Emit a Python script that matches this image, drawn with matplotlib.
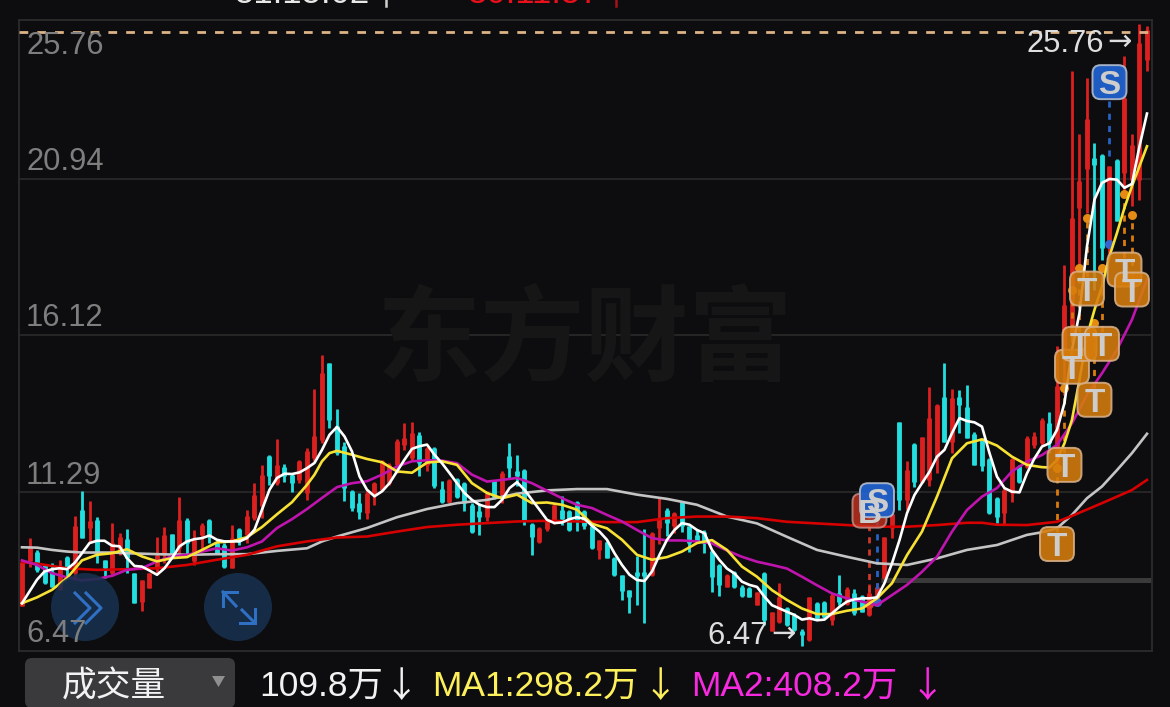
import matplotlib
matplotlib.use('Agg')
import matplotlib.pyplot as plt
import numpy as np
from matplotlib.patches import Circle, FancyBboxPatch, Polygon

plt.rcParams['font.family'] = ['Liberation Sans', 'Noto Sans CJK SC', 'DejaVu Sans']

# candles, left to right
opens = [7.85, 9.21, 9.51, 9.10, 8.87, 8.34, 9.34, 8.85, 10.79, 10.23,
         10.48, 9.24, 8.85, 9.51, 9.89, 8.85, 7.98, 8.39, 9.00, 9.41,
         10.05, 9.61, 10.48, 9.21, 10.02, 10.48, 9.77, 9.72, 9.00, 10.20,
         10.02, 10.53, 10.89, 12.42, 11.60, 12.11, 11.86, 11.71, 11.30, 12.37,
         12.93, 15.28, 13.34, 12.73, 11.35, 11.00, 10.69, 11.25, 11.40, 11.60,
         12.16, 12.78, 12.37, 13.08, 12.16, 12.67, 11.42, 11.04, 11.72, 11.62,
         10.94, 10.74, 10.58, 11.68, 11.25, 12.42, 11.96, 12.01, 10.36, 9.79,
         10.19, 10.48, 10.79, 10.74, 11.04, 10.74, 10.30, 9.56, 9.80, 9.31,
         8.78, 8.32, 8.90, 8.90, 8.80, 10.22, 10.79, 10.28, 11.01, 10.28,
         10.02, 10.12, 9.54, 9.10, 8.43, 8.89, 8.43, 8.41, 7.87, 8.84,
         7.09, 7.36, 7.77, 7.57, 7.09, 6.80, 7.95, 7.98, 7.41, 8.23,
         7.92, 8.23, 8.15, 7.57, 8.03, 8.69, 10.22, 13.46, 11.09, 12.80,
         11.65, 11.70, 12.41, 14.25, 12.87, 14.25, 13.94, 13.11, 12.94, 12.34,
         11.14, 10.68, 11.29, 12.13, 12.11, 12.77, 12.82, 13.43, 12.21, 15.68,
         16.14, 20.02, 21.19, 21.55, 21.62, 18.84, 21.49, 21.09, 20.88, 20.88,
         24.53]
closes = [9.18, 9.67, 8.95, 8.54, 8.44, 9.05, 9.00, 10.30, 9.92, 10.43,
          9.46, 9.00, 9.77, 9.97, 9.31, 7.95, 8.63, 8.85, 9.41, 10.02,
          9.41, 10.48, 9.77, 9.87, 10.33, 10.02, 9.46, 9.05, 9.92, 9.92,
          10.60, 11.25, 11.86, 11.81, 12.16, 11.81, 11.60, 12.27, 12.57, 13.03,
          14.97, 13.54, 12.52, 11.45, 10.84, 10.71, 11.30, 11.60, 12.27, 12.17,
          12.88, 12.98, 13.13, 12.21, 12.67, 11.50, 11.04, 11.70, 11.17, 10.99,
          10.12, 10.58, 11.30, 11.19, 11.91, 12.06, 11.81, 10.48, 9.97, 10.22,
          10.46, 10.94, 10.50, 10.17, 10.48, 10.30, 9.61, 9.85, 9.31, 8.78,
          8.29, 8.11, 8.75, 8.75, 10.09, 10.53, 10.38, 10.68, 10.30, 9.77,
          9.82, 9.78, 8.74, 8.49, 8.79, 8.43, 8.15, 8.13, 8.26, 7.41,
          7.65, 8.13, 7.26, 7.11, 6.96, 8.11, 7.47, 7.52, 8.18, 7.98,
          8.38, 7.62, 7.67, 8.23, 8.43, 9.94, 10.66, 11.09, 12.00, 11.65,
          13.00, 13.59, 13.99, 12.87, 14.20, 13.99, 12.97, 12.16, 12.13, 10.68,
          10.58, 11.39, 12.33, 11.65, 12.98, 13.03, 13.54, 12.82, 14.56, 17.06,
          19.72, 20.83, 22.72, 21.34, 18.79, 21.29, 19.61, 23.38, 21.95, 25.06,
          25.45]
highs = [9.18, 9.91, 9.56, 9.10, 9.16, 9.26, 9.36, 10.60, 11.35, 11.06,
         10.56, 9.26, 10.38, 10.07, 10.20, 8.85, 8.63, 8.85, 9.95, 10.26,
         10.05, 11.18, 10.53, 10.18, 10.38, 10.50, 9.82, 9.77, 10.33, 10.23,
         10.77, 11.62, 12.16, 12.47, 12.96, 12.20, 11.91, 12.32, 12.67, 14.48,
         15.53, 15.28, 13.88, 12.85, 11.38, 11.30, 11.40, 11.63, 12.32, 12.22,
         12.96, 13.44, 13.46, 13.15, 12.72, 12.72, 11.68, 11.72, 11.76, 11.65,
         10.99, 10.99, 11.35, 11.70, 11.96, 12.83, 12.47, 12.03, 10.38, 10.26,
         10.48, 10.99, 11.21, 10.79, 11.07, 10.79, 10.33, 9.87, 9.82, 9.33,
         8.80, 8.34, 9.38, 10.19, 10.12, 11.19, 10.84, 10.71, 11.04, 10.30,
         10.17, 10.17, 9.56, 9.13, 8.82, 8.92, 8.49, 8.43, 8.28, 8.89,
         7.67, 8.56, 7.80, 7.62, 7.13, 8.13, 7.98, 8.01, 8.23, 8.79,
         8.43, 8.38, 8.18, 8.52, 8.54, 9.96, 10.68, 13.48, 12.29, 12.82,
         13.02, 14.53, 14.02, 15.27, 14.47, 14.45, 14.61, 13.15, 12.97, 12.36,
         11.19, 11.45, 12.36, 12.16, 13.03, 13.15, 13.59, 13.79, 15.78, 18.28,
         24.19, 22.26, 23.99, 22.00, 21.65, 21.31, 21.51, 24.66, 22.26, 25.63,
         25.59]
lows = [7.85, 9.05, 8.90, 8.52, 8.44, 8.34, 8.75, 8.65, 9.92, 9.77,
        9.16, 8.70, 8.75, 9.41, 8.85, 7.93, 7.68, 8.39, 8.85, 9.16,
        9.41, 9.36, 9.41, 9.10, 9.56, 9.77, 9.44, 9.00, 9.00, 9.72,
        9.77, 10.48, 10.53, 11.53, 11.55, 11.63, 11.32, 11.60, 11.09, 12.27,
        12.83, 13.29, 12.47, 11.06, 10.74, 10.51, 10.50, 10.94, 11.35, 11.53,
        11.91, 12.62, 12.32, 11.83, 11.96, 11.45, 10.99, 10.99, 11.14, 10.74,
        10.07, 10.02, 10.43, 11.11, 10.99, 11.76, 11.50, 10.33, 9.41, 9.77,
        10.15, 10.36, 10.33, 10.15, 10.15, 10.19, 9.58, 9.28, 9.30, 8.77,
        8.03, 7.62, 7.88, 7.32, 8.77, 9.75, 10.00, 10.07, 10.12, 9.51,
        9.77, 9.47, 8.28, 8.15, 8.43, 8.41, 8.13, 8.11, 7.87, 7.26,
        7.09, 7.33, 7.23, 7.09, 6.63, 6.78, 7.41, 7.47, 7.26, 7.87,
        7.87, 7.57, 7.67, 7.54, 7.98, 8.66, 9.91, 10.78, 10.78, 11.49,
        11.60, 11.51, 11.92, 12.87, 12.51, 13.13, 12.97, 12.16, 11.98, 10.66,
        10.37, 10.32, 11.01, 11.60, 12.06, 12.67, 12.77, 12.52, 12.16, 14.30,
        15.99, 18.13, 19.86, 17.52, 18.43, 18.54, 19.61, 20.47, 20.07, 20.27,
        24.20]

# moving averages
ma_white = [7.93, 8.29, 8.65, 8.90, 8.97, 9.00, 8.97, 9.16, 9.46, 9.77,
            9.84, 9.84, 9.69, 9.67, 9.31, 9.07, 9.05, 8.93, 8.80, 9.00,
            9.31, 9.67, 9.82, 9.89, 9.92, 10.00, 9.87, 9.82, 9.82, 9.82,
            9.92, 10.18, 10.79, 11.40, 11.76, 11.89, 11.88, 11.93, 12.06, 12.22,
            12.62, 13.08, 13.32, 13.03, 12.57, 11.81, 11.40, 11.20, 11.35, 11.60,
            11.96, 12.32, 12.65, 12.73, 12.78, 12.47, 12.21, 11.91, 11.60, 11.30,
            11.09, 10.94, 10.87, 10.87, 11.09, 11.45, 11.63, 11.40, 11.09, 10.79,
            10.48, 10.38, 10.40, 10.50, 10.56, 10.51, 10.30, 10.12, 9.87, 9.46,
            9.10, 8.80, 8.64, 8.61, 8.90, 9.41, 9.87, 10.17, 10.38, 10.33,
            10.17, 10.07, 9.56, 9.25, 8.99, 8.84, 8.59, 8.49, 8.43, 8.13,
            7.87, 7.77, 7.67, 7.57, 7.43, 7.47, 7.41, 7.43, 7.62, 7.82,
            7.98, 8.05, 8.08, 8.08, 8.11, 8.54, 9.15, 9.86, 10.68, 11.24,
            11.60, 11.95, 12.41, 12.62, 13.13, 13.59, 13.50, 13.46, 13.33, 12.52,
            11.80, 11.45, 11.34, 11.32, 11.90, 12.36, 12.72, 12.82, 13.23, 14.05,
            15.68, 16.80, 18.84, 20.27, 20.78, 20.90, 20.88, 20.63, 20.75, 21.90,
            22.90]

yellow_idx = [0, 2, 4, 6, 8, 10, 12, 14, 16, 18, 20, 22, 24, 26, 28, 30, 32, 34, 36, 38,
              39, 40, 41, 42, 44, 46, 48, 50, 52, 54, 56, 58, 60, 62, 64, 66, 68, 70, 72, 74,
              76, 78, 80, 82, 84, 86, 88, 90, 92, 94, 96, 98, 100, 102, 104, 106, 108, 110, 112, 114,
              116, 118, 120, 122, 124, 126, 128, 130, 132, 134, 136, 137, 138, 139, 140, 141, 142, 143,
              144, 145, 146, 147, 148, 149, 150]
ma_yellow = [7.93, 8.11, 8.34, 8.70, 9.24, 9.41, 9.46, 9.58, 9.36, 9.21, 9.31, 9.34, 9.56, 9.79, 9.82, 9.95, 10.26, 10.65, 11.02, 11.55,
             11.86, 12.27, 12.52, 12.59, 12.47, 12.34, 12.24, 11.96, 11.92, 12.23, 12.27, 12.16, 11.60, 11.30, 11.14, 11.25, 10.99, 11.01, 10.94, 10.79,
             10.36, 10.22, 9.87, 9.41, 9.26, 9.34, 9.51, 9.77, 9.86, 9.56, 9.05, 8.74, 8.33, 8.03, 7.77, 7.60, 7.60, 7.70, 7.77, 8.08,
             8.54, 9.40, 10.12, 11.19, 12.36, 12.82, 12.94, 12.75, 12.41, 12.16, 12.09, 12.08, 12.31, 12.82, 13.54, 14.76, 16.09, 16.90,
             17.62, 18.54, 19.25, 20.02, 20.68, 21.29, 21.90]

magenta_idx = [0, 2, 4, 6, 8, 10, 12, 14, 16, 18, 20, 22, 24, 26, 28, 30, 32, 34, 36, 38,
               40, 42, 44, 46, 48, 50, 52, 54, 56, 58, 60, 62, 64, 66, 68, 70, 72, 74, 76, 78,
               80, 82, 84, 86, 88, 90, 92, 94, 96, 98, 100, 102, 104, 106, 108, 110, 112, 114, 116, 118,
               120, 122, 124, 126, 128, 130, 132, 134, 136, 138, 140, 142, 144, 146, 148, 150]
ma_magenta = [9.24, 9.10, 8.85, 8.72, 8.63, 8.67, 8.77, 8.95, 9.00, 9.21, 9.36, 9.41, 9.51, 9.61, 9.54, 9.64, 9.82, 10.23, 10.50, 10.81,
              11.15, 11.48, 11.60, 11.66, 11.86, 12.11, 12.27, 12.30, 12.29, 12.21, 11.86, 11.65, 11.70, 11.76, 11.60, 11.37, 11.14, 10.94, 10.84, 10.63,
              10.43, 10.17, 9.92, 9.85, 9.85, 9.82, 9.76, 9.54, 9.35, 9.20, 9.10, 8.99, 8.74, 8.48, 8.23, 8.08, 7.98, 7.87, 8.18, 8.49,
              8.89, 9.35, 10.12, 10.78, 11.19, 11.45, 11.96, 12.26, 12.46, 12.77, 13.43, 14.30, 14.96, 15.68, 16.60, 17.82]

grey_idx = [0, 2, 4, 6, 8, 12, 14, 18, 22, 26, 30, 34, 38, 40, 42, 46, 50, 54, 58, 62, 66, 70, 74, 78,
            82, 86, 90, 94, 98, 102, 106, 110, 114, 118, 122, 126, 130, 134, 136, 138, 140, 142, 144, 146, 148, 150]
ma_grey = [9.64, 9.63, 9.56, 9.51, 9.48, 9.48, 9.46, 9.43, 9.41, 9.43, 9.43, 9.53, 9.61, 9.82, 9.97, 10.23, 10.56, 10.81, 10.99, 11.09, 11.28, 11.38, 11.42, 11.42,
           11.25, 11.12, 10.94, 10.58, 10.37, 9.96, 9.56, 9.35, 9.15, 9.10, 9.30, 9.56, 9.71, 10.02, 10.10, 10.22, 10.63, 11.14, 11.50, 12.00, 12.52, 13.11]

red_idx = [0, 2, 6, 10, 14, 18, 22, 26, 30, 34, 38, 42, 46, 50, 54, 58, 62, 66, 70, 74, 78, 82, 86, 90,
           94, 98, 102, 106, 110, 114, 118, 122, 126, 128, 130, 134, 138, 140, 144, 148, 150]
ma_red = [9.19, 9.14, 9.00, 8.95, 8.97, 9.00, 9.10, 9.26, 9.41, 9.67, 9.82, 9.94, 9.97, 10.12, 10.26, 10.33, 10.38, 10.43, 10.45, 10.43, 10.41, 10.41, 10.53, 10.58,
          10.58, 10.53, 10.42, 10.37, 10.32, 10.27, 10.27, 10.32, 10.39, 10.39, 10.33, 10.32, 10.42, 10.60, 10.99, 11.39, 11.70]

# trade signals: candle index, badge level, dot level
t_idx = [138, 143, 139, 140, 141, 144, 142, 147, 148]
t_badge = [9.74, 14.15, 12.16, 15.16, 15.86, 15.86, 17.55, 18.13, 17.52]
t_dot = [12.07, 16.51, 14.52, 17.52, 18.19, 18.19, 19.72, 20.45, 19.81]
b_idx, b_badge, b_dot = 113, 10.76, 7.90
s_idx = [114, 145]
s_badge = [11.08, 23.86]
s_dot = [7.96, 18.90]
s_line_top = [10.40, 23.30]
s_line_bot = [8.00, 21.60]

tick_labels = ['25.76', '20.94', '16.12', '11.29', '6.47']
grid_levels = [20.90, 16.13, 11.33]
high_level = 25.39
flat_level = 8.64
max_label = '25.76'
min_label = '6.47'

BG = '#0d0d0f'
RED = '#dc2020'
CYAN = '#22dede'
ORANGE = '#d97c0c'
BLUE = '#2563c4'

fig = plt.figure(figsize=(11.7, 7.07), dpi=100, facecolor=BG)
ax = fig.add_axes([18.5 / 1170, 1 - 651 / 707, (1152 - 18.5) / 1170, (651 - 20) / 707])
ax.set_facecolor(BG)
ax.set_xlim(-0.467, 150.67)
ax.set_ylim(6.47, 25.76)
ax.set_xticks([])
ax.set_yticks([])
for s in ax.spines.values():
    s.set_color('#2b2b2b')
    s.set_linewidth(1.3)

ui = fig.add_axes([0, 0, 1, 1], zorder=5)
ui.set_xlim(0, 1170)
ui.set_ylim(707, 0)
ui.axis('off')
ui.patch.set_alpha(0)

ax.hlines(grid_levels, -0.467, 150.67, color='#262626', lw=1.4, zorder=1)
ax.text(585, 342, '东方财富', transform=ui.transData, color='#161616',
        fontsize=75, fontweight='bold', family='Noto Sans CJK SC', ha='center', va='center', zorder=1)
ax.hlines(flat_level, 114.5, 150.67, color='#3a3a3a', lw=3.6, zorder=1)

# candles
xs = np.arange(len(opens))
opens, closes, highs, lows = map(np.array, (opens, closes, highs, lows))
colors = np.where(closes >= opens, RED, CYAN)
ax.vlines(xs, lows, highs, colors=colors, lw=2.0, zorder=2, capstyle='butt')
ax.vlines(xs, np.minimum(opens, closes), np.maximum(opens, closes), colors=colors, lw=3.5, zorder=2, capstyle='butt')

# dotted signal lines and dots
dash = (0, (2.2, 2.2))
ax.vlines(t_idx, np.array(t_badge), t_dot, color=ORANGE, lw=2, linestyle=dash, zorder=3)
ax.plot(t_idx, t_dot, 'o', color='#e58a12', ms=6.5, zorder=3, mew=0)
ax.vlines(b_idx, b_dot, b_badge, color='#c83a2a', lw=2, linestyle=dash, zorder=3)
ax.plot([b_idx], [b_dot], 'o', color='#d83a2a', ms=6.5, zorder=3, mew=0)
ax.vlines(s_idx, s_line_bot, s_line_top, color=BLUE, lw=2, linestyle=dash, zorder=3)
ax.plot(s_idx, s_dot, 'o', color='#3a62c8', ms=6.5, zorder=4, mew=0)

# moving averages
ax.plot(xs[grey_idx], ma_grey, color='#c4c4c4', lw=1.9, zorder=4)
ax.plot(xs[red_idx], ma_red, color='#d60000', lw=1.9, zorder=4)
ax.plot(xs[magenta_idx], ma_magenta, color='#bf14ae', lw=1.9, zorder=4)
ax.plot(xs[yellow_idx], ma_yellow, color='#f7e234', lw=1.9, zorder=4)
ax.plot(xs, ma_white, color='#ffffff', lw=1.9, zorder=4)

# high-price dashed line
ax.hlines(high_level, -0.467, 150.67, color='#dcb286', lw=2.0, linestyle=(0, (3.15, 3.25)), zorder=4)


def to_ui(i, price):
    px, py = ax.transData.transform((i, price))
    return px, 707 - py


def badge(i, price, letter, fc, ec, alpha=0.88):
    cx, cy = to_ui(i, price)
    ui.add_patch(FancyBboxPatch((cx - 17, cy - 17), 34, 34, boxstyle='round,pad=0,rounding_size=8',
                                fc=fc, ec=ec, lw=1.4, alpha=alpha))
    ui.text(cx, cy, letter, color='#cdcdcd', fontsize=24, fontweight='bold', ha='center', va='center_baseline')


badge(b_idx, b_badge, 'B', '#c8321f', '#c9958c', alpha=0.8)
for i, p in zip(s_idx, s_badge):
    badge(i, p, 'S', '#1f5fc8', '#a9b4c8', alpha=0.97)
for i, p in zip(t_idx, t_badge):
    badge(i, p, 'T', '#d67d0c', '#d8b088')

# axis labels
for label, y in zip(tick_labels, [43, 158, 315, 473, 630]):
    ui.text(26, y, label, color='#7e7e7e', fontsize=22.2, ha='left', va='center_baseline')

# extreme labels, arrows from DejaVu for the solid head
ui.text(1027, 40, max_label, color='#dedede', fontsize=22.2, ha='left', va='center_baseline')
ui.text(1107, 39, '→', color='#dedede', fontsize=21, family='DejaVu Sans', ha='left', va='center_baseline')
ui.text(707, 632, min_label, color='#dedede', fontsize=22.2, ha='left', va='center_baseline')
ui.text(771, 631, '→', color='#dedede', fontsize=21, family='DejaVu Sans', ha='left', va='center_baseline')

# round buttons
for cx in [85, 238]:
    ui.add_patch(Circle((cx, 607), 34, fc='#17304e', ec='none', alpha=0.88))
for dx in [0, 11]:
    ui.plot([75 + dx, 90 + dx, 75 + dx], [593, 608, 623], color='#2f6fc4', lw=2.2)
ui.plot([223, 223, 237], [606, 592, 592], color='#2f6fc4', lw=2.2, solid_joinstyle='miter')
ui.plot([223, 236], [592, 606], color='#2f6fc4', lw=2.2)
ui.plot([240, 255, 255], [623, 623, 609], color='#2f6fc4', lw=2.2, solid_joinstyle='miter')
ui.plot([255, 242], [623, 610], color='#2f6fc4', lw=2.2)

# top row, cut off by the edge
ui.text(235, 3, '51.15.02', color='#e8e8e8', fontsize=25, ha='left', va='baseline')
ui.plot([386, 386], [0, 6], color='#d0d0d0', lw=1.8)
ui.text(468, 3, '30:11.57', color='#e8101a', fontsize=25, ha='left', va='baseline')
ui.plot([616, 616], [0, 6], color='#a8101a', lw=1.8)

# bottom bar
ui.add_patch(FancyBboxPatch((25, 658), 210, 50, boxstyle='round,pad=0,rounding_size=7', fc='#3a3a3c', ec='none'))
ui.text(114, 683, '成交量', color='#f2f2f2', fontsize=25, ha='center', va='center_baseline')
ui.add_patch(Polygon([[212, 676], [225, 676], [218.5, 687]], fc='#8f8f8f', ec='none'))
ui.text(259, 683, '109.8万', color='#f2f2f2', fontsize=25.5, ha='left', va='center_baseline')
ui.text(401, 683, '↓', color='#f2f2f2', fontsize=25.5, family='Noto Sans CJK SC', ha='center', va='center_baseline')
ui.text(432, 683, 'MA1:298.2万', color='#fdf05a', fontsize=25.5, ha='left', va='center_baseline')
ui.text(660, 683, '↓', color='#fdf05a', fontsize=25.5, family='Noto Sans CJK SC', ha='center', va='center_baseline')
ui.text(691, 683, 'MA2:408.2万', color='#f82ae0', fontsize=25.5, ha='left', va='center_baseline')
ui.text(927, 683, '↓', color='#f82ae0', fontsize=25.5, family='Noto Sans CJK SC', ha='center', va='center_baseline')

fig.savefig('out.png', dpi=100, facecolor=BG)
